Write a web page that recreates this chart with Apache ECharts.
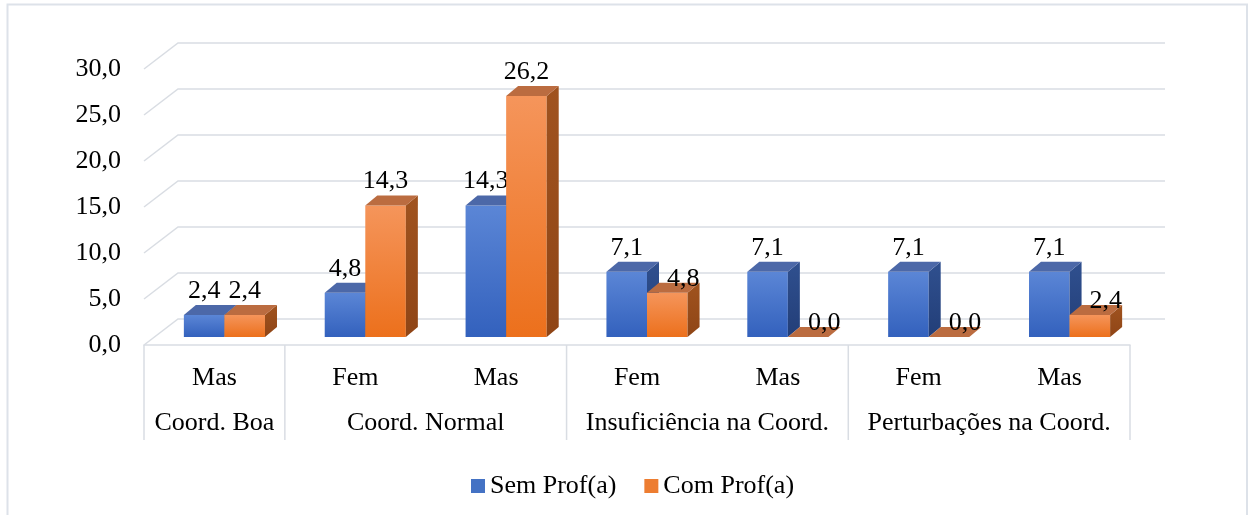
<!DOCTYPE html>
<html lang="pt">
<head>
<meta charset="UTF-8" />
<title>Coordenação por sexo</title>
<style>
  * { box-sizing: border-box; margin: 0; padding: 0; }
  body { background: #fff; }
  #chart { width: 1248px; height: 515px; }
</style>
</head>
<body>
<div id="chart"></div>
<script src="https://cdn.jsdelivr.net/npm/echarts@6/dist/echarts.min.js"></script>
<script>
// dados
var subCats = ['Mas', 'Fem', 'Mas', 'Fem', 'Mas', 'Fem', 'Mas'];
var groupNames = ['Coord. Boa', 'Coord. Normal', 'Insuficiência na Coord.', 'Perturbações na Coord.'];
var groupSpans = [[0, 0], [1, 2], [3, 4], [5, 6]];
var semProf = [2.4, 4.8, 14.3, 7.1, 7.1, 7.1, 7.1];
var comProf = [2.4, 14.3, 26.2, 4.8, 0.0, 0.0, 2.4];
var yTicks = [0, 5, 10, 15, 20, 25, 30];

var FONT = 'Liberation Serif';
var OFF = [10, -8];     // plano das barras em relação ao plano da frente
var DEPTH = [12, -10];  // profundidade de cada barra
var WALL = [34, -26];   // parede do fundo
var GRID_COLOR = '#d9dde3';

var colors = {
  sem: { front: ['#5b86d6', '#3361bd'], top: '#4c68a8', side: ['#30508f', '#223e78'] },
  com: { front: ['#f5955b', '#ec701c'], top: '#bb6c40', side: ['#a0531f', '#8f4516'] }
};

function fmt(v) {
  return v.toFixed(1).replace('.', ',');
}

function lin(c) {
  return { type: 'linear', x: 0, y: 0, x2: 0, y2: 1, colorStops: [{ offset: 0, color: c[0] }, { offset: 1, color: c[1] }] };
}

function barRender(which) {
  var pal = colors[which];
  return function (params, api) {
    var i = api.value(0), v = api.value(1);
    var bw = api.size([1, 0])[0];
    var w = bw * 0.288;
    var c = api.coord([i, v]);
    var b = api.coord([i, 0]);
    var x0 = c[0] + OFF[0] + (which === 'sem' ? -w : 0);
    var top = c[1] + OFF[1];
    var base = b[1] + OFF[1];
    var dx = DEPTH[0], dy = DEPTH[1];

    var lx = x0 + w / 2, ly = top - 24;
    if (which === 'com' && v < semProf[i]) {
      lx += 16;
      ly = top - 14;
    }

    return {
      type: 'group',
      children: [
        {
          type: 'rect',
          shape: { x: x0, y: top, width: w, height: Math.max(base - top, 0) },
          style: { fill: lin(pal.front) }
        },
        {
          type: 'polygon',
          shape: { points: [[x0 + w, top], [x0 + w + dx, top + dy], [x0 + w + dx, base + dy], [x0 + w, base]] },
          style: { fill: lin(pal.side) }
        },
        {
          type: 'polygon',
          shape: { points: [[x0, top], [x0 + w, top], [x0 + w + dx, top + dy], [x0 + dx, top + dy]] },
          style: { fill: pal.top }
        },
        {
          type: 'text',
          style: {
            text: fmt(v), x: lx, y: ly, align: 'center', verticalAlign: 'middle',
            fontFamily: FONT, fontSize: 26, fill: '#000'
          }
        }
      ]
    };
  };
}

var chart = echarts.init(document.getElementById('chart'));

chart.setOption({
  animation: false,
  backgroundColor: '#fff',
  graphic: [{
    type: 'rect',
    shape: { x: 7.5, y: 4.5, width: 1239.5, height: 530 },
    style: { fill: null, stroke: '#dde2e9', lineWidth: 2 },
    silent: true
  }],
  legend: {
    data: ['Sem Prof(a)', 'Com Prof(a)'],
    left: 466,
    top: 468,
    icon: 'rect',
    itemWidth: 14,
    itemHeight: 14,
    itemGap: 28,
    textStyle: { fontFamily: FONT, fontSize: 26, color: '#000' }
  },
  grid: { left: 144, right: 118, top: 69, bottom: 170 },
  xAxis: {
    type: 'category',
    data: subCats,
    axisLine: { show: true, lineStyle: { color: GRID_COLOR, width: 1.5 } },
    axisTick: { show: false },
    axisLabel: { interval: 0, margin: 20, fontFamily: FONT, fontSize: 26, color: '#000' },
    splitLine: { show: false }
  },
  yAxis: {
    type: 'value',
    min: 0,
    max: 30,
    interval: 5,
    axisLine: { show: false },
    axisTick: { show: false },
    splitLine: { show: false },
    axisLabel: { margin: 23, fontFamily: FONT, fontSize: 26, color: '#000', formatter: fmt }
  },
  series: [
    {
      name: '_grade',
      type: 'custom',
      z: 1,
      silent: true,
      encode: { x: 0, y: 1 },
      data: yTicks.map(function (v) { return [0, v]; }),
      renderItem: function (params, api) {
        var y = api.coord([0, api.value(1)])[1];
        var cs = params.coordSys;
        var L = cs.x, R = cs.x + cs.width;
        return {
          type: 'polyline',
          shape: { points: [[L, y], [L + WALL[0], y + WALL[1]], [R + WALL[0] + 1, y + WALL[1]]] },
          style: { stroke: GRID_COLOR, lineWidth: 1.5, fill: null }
        };
      }
    },
    {
      name: '_tabela',
      type: 'custom',
      z: 1,
      silent: true,
      encode: { x: 0, y: 1 },
      data: groupSpans.map(function (s) { return [s[0], 0, s[1]]; }),
      renderItem: function (params, api) {
        var bw = api.size([1, 0])[0];
        var p0 = api.coord([api.value(0), 0]);
        var p1 = api.coord([api.value(2), 0]);
        var L = p0[0] - bw / 2, R = p1[0] + bw / 2;
        var y0 = p0[1];
        var kids = [
          { type: 'line', shape: { x1: L, y1: y0, x2: L, y2: y0 + 95 }, style: { stroke: GRID_COLOR, lineWidth: 1.5 } },
          {
            type: 'text',
            style: {
              text: groupNames[params.dataIndex], x: (L + R) / 2, y: y0 + 78,
              align: 'center', verticalAlign: 'middle', fontFamily: FONT, fontSize: 26, fill: '#000'
            }
          }
        ];
        if (params.dataIndex === groupSpans.length - 1) {
          kids.push({ type: 'line', shape: { x1: R, y1: y0, x2: R, y2: y0 + 95 }, style: { stroke: GRID_COLOR, lineWidth: 1.5 } });
        }
        return { type: 'group', children: kids };
      }
    },
    {
      name: 'Sem Prof(a)',
      type: 'custom',
      z: 3,
      itemStyle: { color: '#4472c4' },
      encode: { x: 0, y: 1 },
      data: semProf.map(function (v, i) { return [i, v]; }),
      renderItem: barRender('sem')
    },
    {
      name: 'Com Prof(a)',
      type: 'custom',
      z: 3,
      itemStyle: { color: '#ed7d31' },
      encode: { x: 0, y: 1 },
      data: comProf.map(function (v, i) { return [i, v]; }),
      renderItem: barRender('com')
    }
  ]
});
</script>
</body>
</html>
